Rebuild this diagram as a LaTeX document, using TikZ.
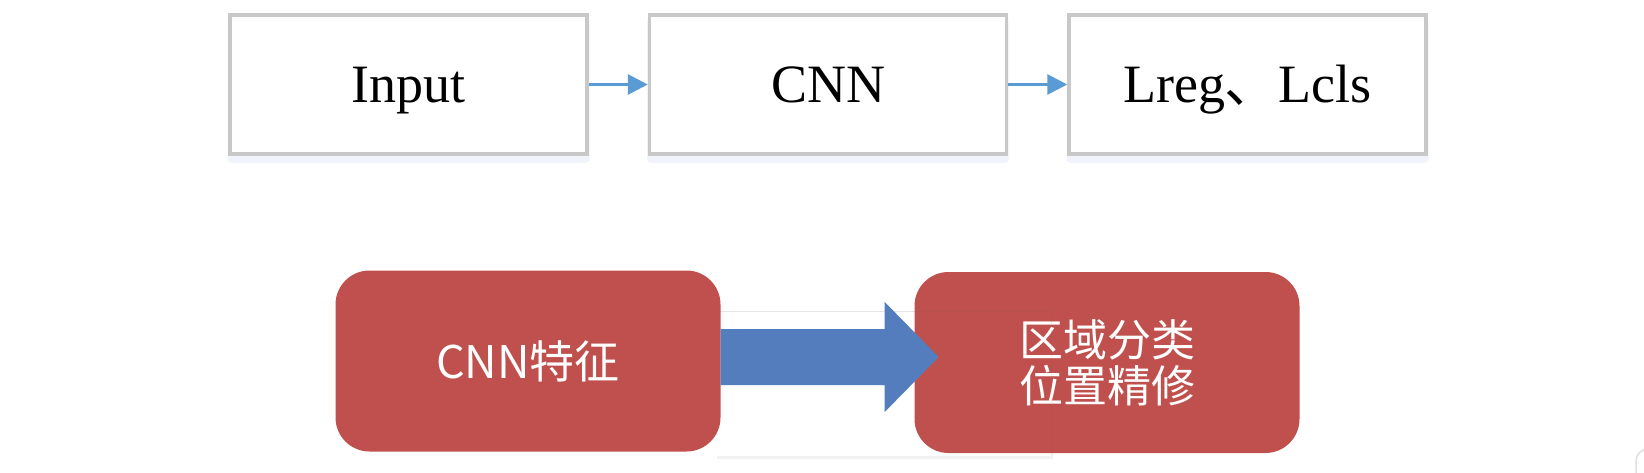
\documentclass[tikz,border=0pt]{standalone}
\usepackage{fontspec}
\setmainfont{Liberation Serif}
\newfontfamily\cjk{Noto Sans CJK SC}
\usetikzlibrary{arrows.meta,calc,shadows}
\definecolor{boxgray}{RGB}{200,200,200}
\definecolor{shadowblue}{RGB}{241,244,251}
\definecolor{linkblue}{RGB}{91,155,213}
\definecolor{redbox}{RGB}{192,80,77}
\definecolor{blockblue}{RGB}{84,125,189}
\tikzset{
  topbox/.style={draw=boxgray,line width=3.5pt,fill=white,minimum width=357pt,minimum height=139pt,inner sep=0pt,
    font=\fontsize{54}{60}\selectfont,text height=36pt,text depth=0pt},
  redbox/.style={fill=redbox,rounded corners=34pt,minimum width=385pt,minimum height=181pt,inner sep=0pt,
    text=white,font=\cjk\fontsize{44}{51}\selectfont,align=center},
  link/.style={draw=linkblue,line width=3pt,-{Triangle[length=20pt,width=20pt]}},
  softshadow/.style={fill=shadowblue}
}
\begin{document}
\begin{tikzpicture}[x=1pt,y=-1pt]
\useasboundingbox (0,0) rectangle (1644,473);
\fill[white] (0,0) rectangle (1644,473);
% shadows of top boxes
\foreach \cx in {408.5,828,1247.5}{
  \fill[softshadow,rounded corners=4pt] (\cx-181,18) rectangle (\cx+181,163);
}
\node[topbox] (inp) at (408.5,84.5) {Input};
\node[topbox] (cnn) at (828,84.5) {CNN};
\node[topbox] (loss) at (1247.5,84.5) {Lreg{\cjk 、}Lcls};
\draw[link] (inp.east) -- (cnn.west);
\draw[link] (cnn.east) -- (loss.west);
% white panel behind block arrow
\fill[black!5] (717,313) rectangle (1053,459);
\fill[white] (716,311) rectangle (1051,456);
\draw[black!10,line width=0.8pt] (716,311.5) -- (1051,311.5);
% red boxes
\node[redbox] (feat) at (528,361) {\fontsize{45}{51}\selectfont CNN特征};
\node[redbox] (cls) at (1107,362.5) {\raisebox{-7pt}{\shortstack{区域分类\\[2pt]位置精修}}};
% faint panel edge over red box
\draw[black!60,opacity=0.08,line width=1pt] (914,311.5) -- (1051,311.5) -- (1051,453);
% block arrow
\coordinate (bs) at ($(feat.east)+(0,-4)$);
\fill[blockblue] ($(bs)+(0,-28)$) -- ++(164,0) -- ++(0,-27) -- ($(bs)+(218,0)$)
  -- ($(bs)+(164,55)$) -- ++(0,-27) -- ($(bs)+(0,28)$) -- cycle;
% corner artifact
\begin{scope}
\clip (0,0) rectangle (1644,473);
\draw[black!12,line width=1.5pt,fill=white,rounded corners=12pt] (1636,449) rectangle (1670,500);
\end{scope}
\end{tikzpicture}
\end{document}
